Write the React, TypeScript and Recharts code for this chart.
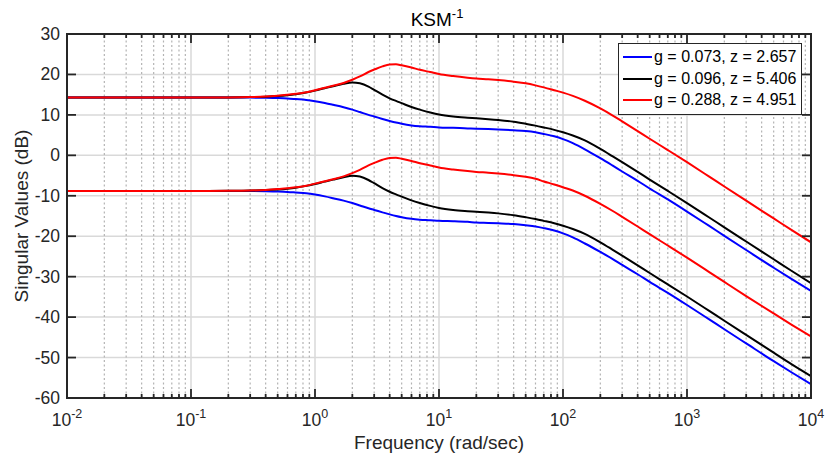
import {
  LineChart,
  Line,
  XAxis,
  YAxis,
  CartesianGrid,
  ReferenceLine,
  Legend,
} from "recharts";

const FONT = '"Liberation Sans", Arial, Helvetica, sans-serif';
const AXIS = "#262626";

// frequency points (rad/sec)
const freq = [
  0.01, 0.03, 0.1, 0.2, 0.3, 0.4, 0.5, 0.6, 0.7, 0.85, 1, 1.2, 1.4, 1.7, 2,
  2.3, 2.7, 3, 3.5, 4, 4.5, 5, 6, 7, 8.5, 10, 13, 17, 20, 25, 30, 40, 50, 60,
  70, 85, 100, 120, 150, 200, 250, 300, 400, 500, 700, 1000, 1500, 2000, 3000,
  5000, 7000, 10000,
];

// singular values in dB (upper = max, lower = min)
const blueUpper = [
  14.3, 14.3, 14.3, 14.3, 14.27, 14.22, 14.15, 14.05, 13.9, 13.7, 13.4, 12.95,
  12.5, 11.9, 11.3, 10.7, 10.0, 9.6, 9.0, 8.5, 8.1, 7.8, 7.4, 7.2, 7.05, 6.9,
  6.8, 6.65, 6.6, 6.5, 6.4, 6.2, 6.0, 5.7, 5.3, 4.7, 4.0, 3.0, 1.5, -0.7,
  -2.5, -4.0, -6.3, -8.2, -10.9, -13.9, -17.4, -19.9, -23.4, -27.8, -30.6,
  -33.5,
];
const blueLower = [
  -8.8, -8.8, -8.8, -8.8, -8.83, -8.88, -8.95, -9.05, -9.2, -9.4, -9.7,
  -10.15, -10.6, -11.2, -11.8, -12.4, -13.1, -13.5, -14.1, -14.6, -15.0,
  -15.3, -15.7, -15.9, -16.05, -16.2, -16.3, -16.45, -16.6, -16.7, -16.8,
  -17.0, -17.3, -17.6, -18.0, -18.6, -19.3, -20.3, -21.8, -23.9, -25.6, -27.1,
  -29.4, -31.3, -34.0, -37.0, -40.5, -43.0, -46.5, -50.9, -53.7, -56.6,
];
const blackUpper = [
  14.3, 14.3, 14.3, 14.32, 14.4, 14.5, 14.65, 14.85, 15.1, 15.55, 16.0, 16.6,
  17.1, 17.7, 18.0, 17.8, 17.0, 16.2, 15.0, 14.1, 13.45, 12.9, 11.95, 11.3,
  10.6, 10.1, 9.6, 9.3, 9.15, 8.95, 8.75, 8.3, 7.8, 7.35, 6.9, 6.3, 5.7, 4.9,
  3.7, 1.6, -0.2, -1.7, -4.1, -6.0, -8.8, -11.8, -15.3, -17.8, -21.3, -25.7,
  -28.6, -31.6,
];
const blackLower = [
  -8.8, -8.8, -8.8, -8.78, -8.7, -8.6, -8.45, -8.25, -8.0, -7.55, -7.1, -6.5,
  -6.0, -5.4, -5.05, -5.25, -6.1, -6.9, -8.1, -9.0, -9.65, -10.2, -11.15,
  -11.8, -12.5, -13.0, -13.5, -13.8, -13.95, -14.15, -14.35, -14.8, -15.3,
  -15.75, -16.2, -16.8, -17.4, -18.2, -19.4, -21.5, -23.3, -24.8, -27.2,
  -29.1, -31.9, -34.9, -38.4, -40.9, -44.4, -48.8, -51.7, -54.6,
];
const redUpper = [
  14.3, 14.3, 14.3, 14.33, 14.4, 14.55, 14.75, 14.95, 15.2, 15.6, 16.1, 16.7,
  17.2, 17.9, 18.7, 19.5, 20.6, 21.2, 22.0, 22.45, 22.5, 22.25, 21.7, 21.15,
  20.6, 20.1, 19.6, 19.2, 19.0, 18.8, 18.6, 18.2, 17.8, 17.3, 16.8, 16.1,
  15.5, 14.7, 13.5, 11.6, 9.9, 8.4, 6.0, 4.1, 1.3, -1.7, -5.2, -7.7, -11.2,
  -15.6, -18.5, -21.5,
];
const redLower = [
  -8.8, -8.8, -8.8, -8.77, -8.7, -8.55, -8.35, -8.15, -7.9, -7.5, -7.0, -6.4,
  -5.9, -5.2, -4.4, -3.6, -2.5, -1.9, -1.1, -0.65, -0.6, -0.85, -1.4, -1.95,
  -2.5, -3.0, -3.5, -3.9, -4.1, -4.3, -4.5, -4.9, -5.3, -5.8, -6.45, -7.2,
  -7.9, -8.7, -10.0, -12.0, -13.7, -15.2, -17.6, -19.5, -22.3, -25.3, -28.8,
  -31.3, -34.8, -39.1, -41.9, -44.8,
];

const decades = [0.01, 0.1, 1, 10, 100, 1000, 10000];
const minorMultiples = [2, 3, 4, 5, 6, 7, 8, 9];
const dbTicks = [-60, -50, -40, -30, -20, -10, 0, 10, 20, 30];

const legendItems = [
  { label: "g = 0.073, z = 2.657", color: "#0000ff" },
  { label: "g = 0.096, z = 5.406", color: "#000000" },
  { label: "g = 0.288, z = 4.951", color: "#ff0000" },
];

const series = [
  { key: "b1", color: "#0000ff" },
  { key: "b2", color: "#0000ff" },
  { key: "k1", color: "#000000" },
  { key: "k2", color: "#000000" },
  { key: "r1", color: "#ff0000" },
  { key: "r2", color: "#ff0000" },
];

const data = freq.map((f, i) => ({
  f,
  b1: blueUpper[i],
  b2: blueLower[i],
  k1: blackUpper[i],
  k2: blackLower[i],
  r1: redUpper[i],
  r2: redLower[i],
}));

const minorFreqs = decades
  .slice(0, -1)
  .flatMap((d) => minorMultiples.map((m) => Number((d * m).toPrecision(3))));
const allFreqTicks = [...decades, ...minorFreqs].sort((a, b) => a - b);
const isDecade = (v: number) => decades.includes(v);

// plot box (chart margins + axis sizes below), used for the axes frame overlay
const PLOT = { left: 67, top: 34, width: 744, height: 364 };
const xPx = (v: number) => PLOT.left + ((Math.log10(v) + 2) / 6) * PLOT.width;
const yPx = (db: number) => PLOT.top + ((30 - db) / 90) * PLOT.height;
const MAJOR_LEN = 9;
const MINOR_LEN = 4;

function DecadeTick(props: any) {
  const { x, y, payload } = props;
  const exp = Math.round(Math.log10(payload.value));
  return (
    <text x={x} y={y + 28} textAnchor="middle" fill={AXIS} fontSize={17.5} fontFamily={FONT}>
      10
      <tspan dy={-8} fontSize={12.5}>
        {exp}
      </tspan>
    </text>
  );
}

function DbTick(props: any) {
  const { x, y, payload } = props;
  return (
    <text x={x - 7} y={y} dy={6} textAnchor="end" fill={AXIS} fontSize={17.5} fontFamily={FONT}>
      {payload.value}
    </text>
  );
}

function LegendBox() {
  return (
    <div
      style={{
        border: `1.5px solid ${AXIS}`,
        background: "#fff",
        padding: "2px 5px 3px 4px",
        fontFamily: FONT,
        fontSize: 16,
        color: "#000",
      }}
    >
      {legendItems.map((it) => (
        <div key={it.label} style={{ display: "flex", alignItems: "center", height: 21.7 }}>
          <span
            style={{
              display: "inline-block",
              width: 29,
              height: 2,
              background: it.color,
              marginRight: 2,
            }}
          />
          <span>{it.label}</span>
        </div>
      ))}
    </div>
  );
}

export default function App() {
  return (
    <div
      style={{
        position: "absolute",
        left: 0,
        top: 0,
        width: 825,
        height: 460,
        background: "#fff",
      }}
    >
      <LineChart
        width={825}
        height={460}
        data={data}
        margin={{ top: 34, right: 14, bottom: 22, left: 7 }}
      >
        <CartesianGrid vertical={false} stroke="#d9d9d9" strokeWidth={1.5} />
        {minorFreqs.map((v) => (
          <ReferenceLine key={`mg${v}`} x={v} stroke="#b3b3b3" strokeWidth={1.2} strokeDasharray="2 2.5" />
        ))}
        {decades.map((v) => (
          <ReferenceLine key={`g${v}`} x={v} stroke="#d9d9d9" strokeWidth={1.5} />
        ))}
        <XAxis
          dataKey="f"
          type="number"
          scale="log"
          domain={[0.01, 10000]}
          ticks={decades}
          allowDataOverflow
          axisLine={false}
          tickLine={false}
          tickSize={0}
          tickMargin={0}
          height={40}
          interval={0}
          tick={(p: any) => <DecadeTick {...p} />}
        />
        <YAxis
          type="number"
          domain={[-60, 30]}
          ticks={dbTicks}
          allowDataOverflow
          axisLine={false}
          tickLine={false}
          tickSize={0}
          tickMargin={0}
          width={60}
          interval={0}
          tick={(p: any) => <DbTick {...p} />}
        />
        {series.map((s) => (
          <Line
            key={s.key}
            dataKey={s.key}
            type="monotone"
            stroke={s.color}
            strokeWidth={2}
            dot={false}
            activeDot={false}
            isAnimationActive={false}
          />
        ))}
        <Legend
          layout="vertical"
          align="center"
          verticalAlign="middle"
          content={() => <LegendBox />}
          wrapperStyle={{ position: "absolute", left: 618, top: 43, width: "auto", height: "auto" }}
        />
      </LineChart>

      <svg
        width={825}
        height={460}
        style={{ position: "absolute", left: 0, top: 0, pointerEvents: "none" }}
      >
        {/* axes box with inward ticks */}
        <rect
          x={PLOT.left}
          y={PLOT.top}
          width={PLOT.width}
          height={PLOT.height}
          fill="none"
          stroke={AXIS}
          strokeWidth={2}
        />
        {allFreqTicks.map((v) => {
          const len = isDecade(v) ? MAJOR_LEN : MINOR_LEN;
          const x = xPx(v);
          return (
            <g key={`xt${v}`} stroke={AXIS} strokeWidth={1.8}>
              <line x1={x} x2={x} y1={PLOT.top + PLOT.height} y2={PLOT.top + PLOT.height - len} />
              <line x1={x} x2={x} y1={PLOT.top} y2={PLOT.top + len} />
            </g>
          );
        })}
        {dbTicks.map((v) => {
          const y = yPx(v);
          return (
            <g key={`yt${v}`} stroke={AXIS} strokeWidth={1.8}>
              <line x1={PLOT.left} x2={PLOT.left + MAJOR_LEN} y1={y} y2={y} />
              <line x1={PLOT.left + PLOT.width} x2={PLOT.left + PLOT.width - MAJOR_LEN} y1={y} y2={y} />
            </g>
          );
        })}

        <text x={437} y={26} textAnchor="middle" fontSize={19} fontFamily={FONT} fill="#000">
          KSM
          <tspan dy={-8} fontSize={13}>
            -1
          </tspan>
        </text>
        <text x={439} y={449} textAnchor="middle" fontSize={19} fontFamily={FONT} fill={AXIS}>
          Frequency (rad/sec)
        </text>
        <text
          x={0}
          y={0}
          transform="translate(28 216) rotate(-90)"
          textAnchor="middle"
          fontSize={19}
          fontFamily={FONT}
          fill={AXIS}
        >
          Singular Values (dB)
        </text>
      </svg>
    </div>
  );
}
